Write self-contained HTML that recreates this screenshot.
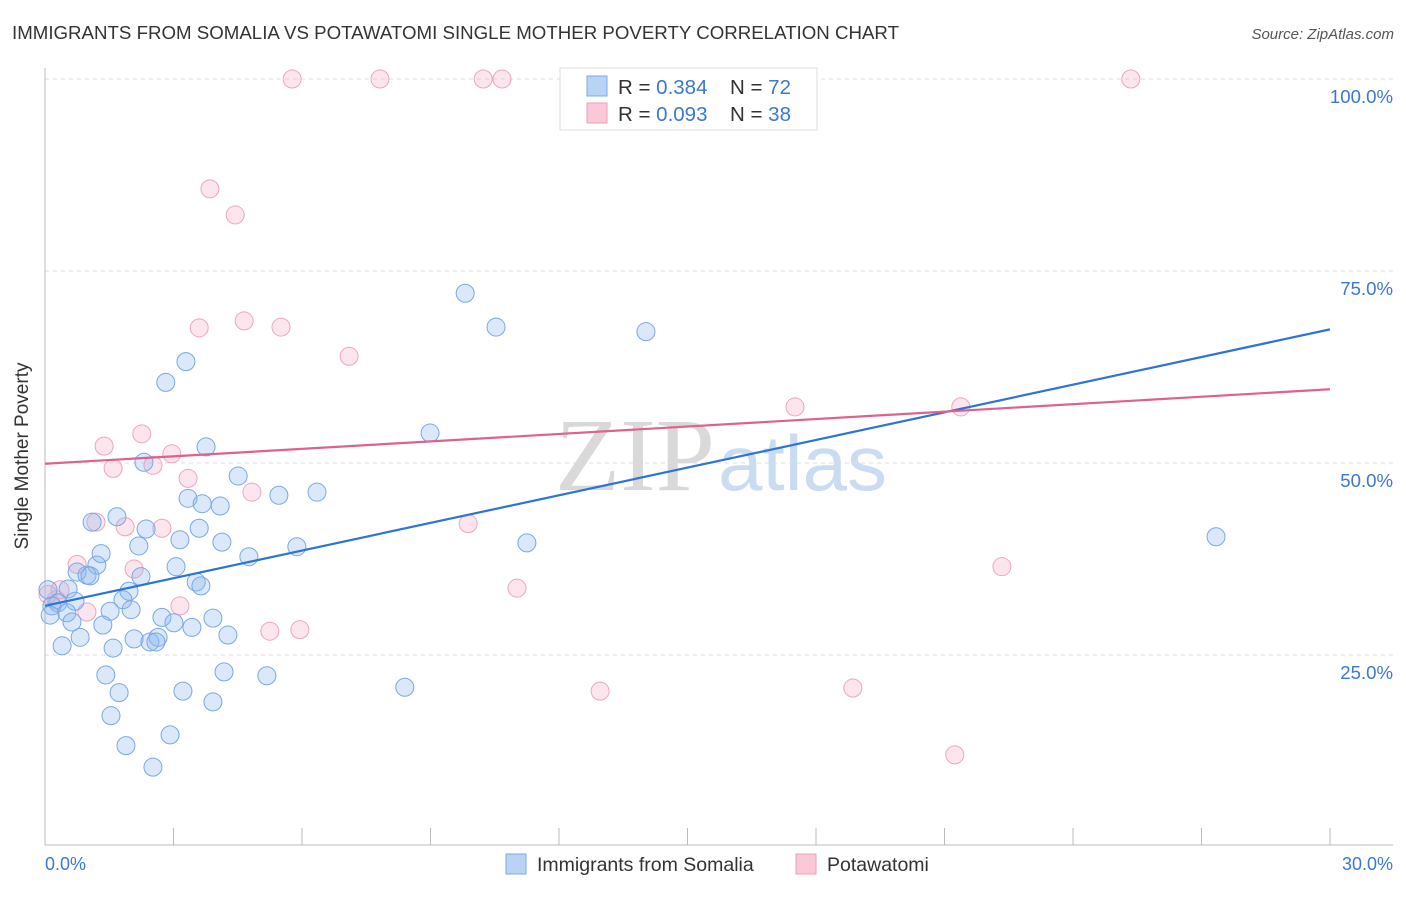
<!DOCTYPE html>
<html><head><meta charset="utf-8"><style>
body{margin:0;background:#fff;font-family:"Liberation Sans",sans-serif;}
</style></head><body>
<svg id="chart" width="1406" height="892" xmlns="http://www.w3.org/2000/svg">
<text x="12" y="39" font-size="18.6" fill="#333" textLength="887" lengthAdjust="spacingAndGlyphs">IMMIGRANTS FROM SOMALIA VS POTAWATOMI SINGLE MOTHER POVERTY CORRELATION CHART</text>
<text x="1394" y="39" font-size="15" fill="#555" font-style="italic" text-anchor="end">Source: ZipAtlas.com</text>
<text x="555" y="490" font-size="104" fill="#d9d9d9" font-family="Liberation Serif,serif" textLength="160" lengthAdjust="spacingAndGlyphs">ZIP</text>
<text x="718" y="490" font-size="78" fill="#c9dcf2" textLength="169" lengthAdjust="spacingAndGlyphs">atlas</text>
<g id="grid"></g>
<line x1="45" y1="68" x2="45" y2="845" stroke="#bbb"/>
<line x1="45" y1="845" x2="1393" y2="845" stroke="#bbb"/>
<text x="28" y="456" font-size="19" fill="#333" text-anchor="middle" transform="rotate(-90 28 456)">Single Mother Poverty</text>
<text x="45" y="870" font-size="18" fill="#3a78d4">0.0%</text>
<text x="1393" y="870" font-size="18" fill="#3a78d4" text-anchor="end">30.0%</text>
<g id="marks"></g>
<g>
<rect x="560" y="68" width="257" height="62" fill="#fff" stroke="#ddd"/>
<rect x="587" y="76" width="20" height="20" fill="#b8d3f4" stroke="#7eaaea"/>
<rect x="587" y="103" width="20" height="20" fill="#f9c9d8" stroke="#ef9fb9"/>
<text x="618" y="94" font-size="20.5" fill="#333">R = <tspan fill="#3a78d4">0.384</tspan><tspan x="730">N = </tspan><tspan fill="#3a78d4">72</tspan></text>
<text x="618" y="121" font-size="20.5" fill="#333">R = <tspan fill="#3a78d4">0.093</tspan><tspan x="730">N = </tspan><tspan fill="#3a78d4">38</tspan></text>
</g>
<g>
<rect x="506" y="854" width="20" height="20" fill="#b8d3f4" stroke="#7eaaea"/>
<text x="537" y="871" font-size="19.5" fill="#333">Immigrants from Somalia</text>
<rect x="796" y="854" width="20" height="20" fill="#f9c9d8" stroke="#ef9fb9"/>
<text x="827" y="871" font-size="19.5" fill="#333">Potawatomi</text>
</g>
</svg>
<script>
const yTicks=[25,50,75,100];
const yTickLabels=["25.0%","50.0%","75.0%","100.0%"];
const xTicks=[3,6,9,12,15,18,21,24,27,30];
const blueX=[9.81,10.53,14.03,3.29,2.82,8.99,3.76,2.31,4.51,3.34,3.67,4.09,5.46,6.35,1.10,1.68,2.36,3.60,3.15,4.13,2.19,1.31,4.76,5.88,11.25,27.34,1.21,0.75,0.98,1.05,2.24,3.06,3.53,3.64,1.96,0.54,0.07,1.82,0.30,0.16,0.70,2.01,1.52,0.12,0.51,2.73,3.92,1.35,3.01,0.63,3.43,0.82,2.08,2.45,2.64,2.59,4.27,0.40,1.59,1.42,4.18,5.18,8.40,1.73,3.22,3.92,1.54,1.89,2.92,2.52];
const blueY=[72.1,67.7,67.1,63.2,60.5,53.9,52.1,50.1,48.3,45.4,44.7,44.4,45.8,46.2,42.3,43.0,41.4,41.5,40.0,39.7,39.2,38.2,37.8,39.1,39.6,40.4,36.7,35.8,35.4,35.3,35.2,36.5,34.5,34.0,33.3,33.6,33.5,32.2,31.8,31.4,32.0,30.9,30.7,30.2,30.5,29.9,29.8,28.9,29.2,29.3,28.6,27.3,27.1,26.7,27.3,26.7,27.6,26.2,25.9,22.4,22.8,22.3,20.8,20.1,20.3,18.9,17.1,13.2,14.6,10.4];
const pinkX=[5.77,7.82,10.23,10.67,25.35,3.85,4.44,3.60,4.65,5.51,7.10,17.51,21.38,1.38,2.26,1.59,2.96,2.52,3.34,4.83,1.87,2.73,9.88,0.75,2.08,0.35,0.26,0.98,0.07,3.15,11.02,22.34,5.25,5.95,12.96,18.86,21.24,1.19];
const pinkY=[100,100,100,100,100,85.7,82.3,67.6,68.5,67.7,63.9,57.3,57.3,52.2,53.8,49.3,51.2,49.7,48.0,46.2,41.7,41.5,42.1,36.8,36.2,33.5,32.2,30.6,32.9,31.4,33.7,36.5,28.1,28.3,20.3,20.7,12.0,42.3];
const blueTrendX=[0,30];
const blueTrendY=[31.4,67.4];
const pinkTrendX=[0,30];
const pinkTrendY=[49.9,59.6];

const NS="http://www.w3.org/2000/svg";
function sx(v){return 45+v/30*1285;}
function sy(v){return 847-v/100*768;}
function mk(tag,attrs,parent){const e=document.createElementNS(NS,tag);for(const k in attrs)e.setAttribute(k,attrs[k]);parent.appendChild(e);return e;}
const grid=document.getElementById('grid');
yTicks.forEach((t,i)=>{
  const l=mk('line',{x1:45,x2:1393,y1:sy(t),y2:sy(t),stroke:'#ddd','stroke-dasharray':'4,4'},grid);
  
  
  const tx=mk('text',{x:1393,y:sy(t)+24,'font-size':18.6,fill:'#3a78d4','text-anchor':'end'},grid);
  tx.textContent=yTickLabels[i];
  
  
});
xTicks.forEach(t=>{
  const l=mk('line',{x1:sx(t),x2:sx(t),y1:828,y2:845,stroke:'#bbb'},grid);
  
  
});
const marks=document.getElementById('marks');
function dots(xs,ys,fill,stroke,name){
  xs.forEach((x,i)=>{
    const c=mk('circle',{cx:sx(x),cy:sy(ys[i]),r:9,fill:fill,stroke:stroke,'stroke-width':1},marks);
    
    
  });
}
dots(pinkX,pinkY,'rgba(246,175,200,0.32)','#eca6bf','potawatomi-point');
dots(blueX,blueY,'rgba(140,182,236,0.32)','#78a8e6','somalia-point');
const bl=mk('line',{x1:sx(blueTrendX[0]),y1:sy(blueTrendY[0]),x2:sx(blueTrendX[1]),y2:sy(blueTrendY[1]),stroke:'#2c74d6','stroke-width':2.2},marks);


const pl=mk('line',{x1:sx(pinkTrendX[0]),y1:sy(pinkTrendY[0]),x2:sx(pinkTrendX[1]),y2:sy(pinkTrendY[1]),stroke:'#e0608e','stroke-width':2.2},marks);


</script>
</body></html>
